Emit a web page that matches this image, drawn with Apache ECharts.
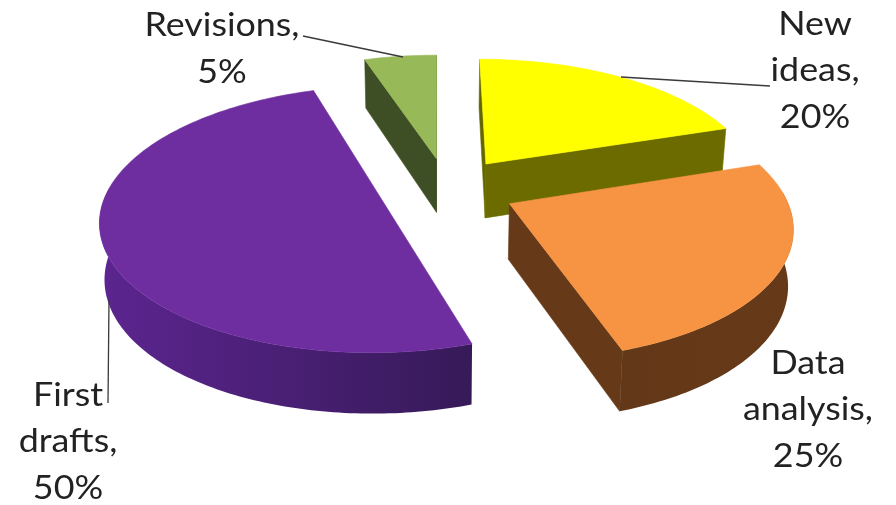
<!DOCTYPE html>
<html>
<head>
<meta charset="utf-8">
<style>html,body{margin:0;padding:0;background:#fff}#chart{width:896px;height:505px}</style>
<script src="https://cdn.jsdelivr.net/npm/echarts@6/dist/echarts.min.js"></script>
</head>
<body>
<div id="chart"></div>
<script>
// Share of writing time, drawn clockwise from twelve o'clock
const categories = ['New\nideas', 'Data\nanalysis', 'First\ndrafts', 'Revisions'];
const shares = [20, 25, 50, 5];
const topColors = ['#FFFF00', '#F69443', '#6E2E9F', '#97B957'];
const wallLit = ['#666600', '#633818', '#5C2590', '#3F4F25'];
const wallDark = ['#6B6B00', '#663A19', '#361A58', '#3F4F25'];

// Perspective camera looking down on the disc (unit radius, y towards the viewer)
const cam = { vx: 437, cy: 189, ax: 274, by: 127.4, q: 0.15, x0: -0.037, thick: 55, thickGrow: 0.1, pinch: 0.985 };
const explode = 0.25;

// Label anchors and leader lines, in pixels
const labelPos = [[815, 71], [808, 410], [68, 442], [222, 49]];
const leaders = [
  [[621, 77], [770, 86]],
  null,
  [[109, 300], [108, 403]],
  [[303, 36], [403, 57]]
];

const total = shares.reduce((a, b) => a + b, 0);
const rad = d => d * Math.PI / 180;

function project(x, y, drop) {
  const w = 1 - cam.q * y;
  const sx = cam.vx + cam.ax * (x - cam.x0) / w;
  const sy = cam.cy + cam.by * y / w;
  return drop
    ? [cam.vx + (sx - cam.vx) * cam.pinch, sy + cam.thick * (1 + cam.thickGrow * y)]
    : [sx, sy];
}

function cross(a, b, c) {
  return (b[0] - a[0]) * (c[1] - a[1]) - (b[1] - a[1]) * (c[0] - a[0]);
}

function renderItem(params, api) {
  const i = params.dataIndex;
  const share = api.value(0);
  const before = shares.slice(0, i).reduce((a, b) => a + b, 0);
  const start = before / total * 360;
  const end = start + share / total * 360;
  const mid = rad((start + end) / 2);
  const ox = explode * Math.sin(mid);
  const oy = -explode * Math.cos(mid);
  const rim = d => [ox + Math.sin(rad(d)), oy - Math.cos(rad(d))];

  const children = [];
  const poly = (pts, fill) => children.push({
    type: 'polygon',
    shape: { points: pts },
    style: { fill: fill, stroke: fill, lineWidth: 0.6 }
  });
  // A cut face is drawn only when it turns towards the camera
  const face = (p, q, fill) => {
    const a = project(p[0], p[1], false), b = project(q[0], q[1], false);
    const c = project(q[0], q[1], true), d = project(p[0], p[1], true);
    if (cross(a, b, c) < 0) poly([a, b, c, d], fill);
  };

  face([ox, oy], rim(start), wallLit[i]);
  face(rim(end), [ox, oy], wallDark[i]);

  // Outer rim: one band across the front of the disc, shaded left to right.
  // It runs a little past the sides; the lid hides the overlap.
  const upper = [], lower = [];
  for (let d = start; d <= end + 1e-6; d += 1) {
    if (Math.cos(rad(d)) < 0.1) {
      const r = rim(d);
      upper.push(project(r[0], r[1], false));
      lower.unshift(project(r[0], r[1], true));
    }
  }
  if (upper.length > 1) {
    const shade = new echarts.graphic.LinearGradient(0, 0, 1, 0, [
      { offset: 0, color: wallLit[i] },
      { offset: 1, color: wallDark[i] }
    ]);
    children.push({
      type: 'polygon',
      shape: { points: upper.concat(lower) },
      style: { fill: shade }
    });
  }

  const lid = [project(ox, oy, false)];
  for (let d = start; d <= end + 1e-6; d += 1) {
    const r = rim(d);
    lid.push(project(r[0], r[1], false));
  }
  poly(lid, topColors[i]);

  return { type: 'group', z2: Math.round(100 + 50 * oy), children: children };
}

function renderLabels(params, api) {
  const i = params.dataIndex;
  const children = [];
  if (leaders[i]) {
    children.push({
      type: 'line',
      shape: {
        x1: leaders[i][0][0], y1: leaders[i][0][1],
        x2: leaders[i][1][0], y2: leaders[i][1][1]
      },
      style: { stroke: '#3a3a3a', lineWidth: 1.3 }
    });
  }
  children.push({
    type: 'text',
    x: labelPos[i][0],
    y: labelPos[i][1],
    scaleX: 1.12,
    style: {
      text: categories[i] + ',\n' + api.value(0) + '%',
      fill: '#222222',
      font: '32px Lato, "Open Sans", sans-serif',
      lineHeight: 46.5,
      align: 'center',
      verticalAlign: 'middle'
    }
  });
  return { type: 'group', children: children };
}

const chart = echarts.init(document.getElementById('chart'), null, { renderer: 'canvas' });
chart.setOption({
  animation: false,
  backgroundColor: '#ffffff',
  series: [
    {
      type: 'custom',
      coordinateSystem: 'none',
      silent: true,
      z: 2,
      renderItem: renderItem,
      data: shares.map(v => [v])
    },
    {
      type: 'custom',
      coordinateSystem: 'none',
      silent: true,
      z: 3,
      renderItem: renderLabels,
      data: shares.map(v => [v])
    }
  ]
});
</script>
</body>
</html>
